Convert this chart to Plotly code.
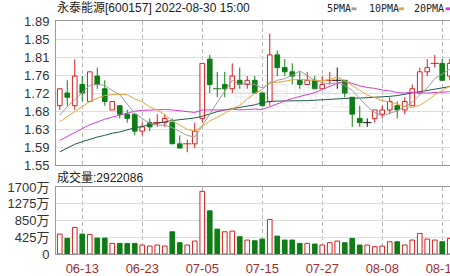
import plotly.graph_objects as go

# ---- daily K-line data, 永泰能源 (600157) ----
dates = [
    "06-08", "06-09", "06-10", "06-13", "06-14", "06-15", "06-16", "06-17", "06-20", "06-21",
    "06-22", "06-23", "06-24", "06-27", "06-28", "06-29", "06-30", "07-01", "07-04", "07-05",
    "07-06", "07-07", "07-08", "07-11", "07-12", "07-13", "07-14", "07-15", "07-18", "07-19",
    "07-20", "07-21", "07-22", "07-25", "07-26", "07-27", "07-28", "07-29", "08-01", "08-02",
    "08-03", "08-04", "08-05", "08-08", "08-09", "08-10", "08-11", "08-12", "08-15", "08-16",
    "08-17", "08-18", "08-19",
]
opens = [
    1.69, 1.72, 1.69, 1.74, 1.70, 1.76, 1.73, 1.68, 1.69, 1.67,
    1.67, 1.63, 1.65, 1.65, 1.65, 1.65, 1.60, 1.60, 1.60, 1.66,
    1.80, 1.73, 1.74, 1.73, 1.75, 1.74, 1.75, 1.72, 1.70, 1.81,
    1.78, 1.77, 1.75, 1.74, 1.75, 1.73, 1.75, 1.75, 1.75, 1.71,
    1.66, 1.65, 1.66, 1.67, 1.68, 1.69, 1.68, 1.69, 1.72, 1.77,
    1.79, 1.79, 1.76,
]
highs = [
    1.73, 1.75, 1.80, 1.76, 1.77, 1.78, 1.75, 1.70, 1.69, 1.68,
    1.67, 1.65, 1.66, 1.67, 1.67, 1.66, 1.62, 1.61, 1.65, 1.79,
    1.81, 1.77, 1.77, 1.79, 1.78, 1.76, 1.76, 1.72, 1.86, 1.82,
    1.80, 1.79, 1.77, 1.77, 1.76, 1.76, 1.77, 1.78, 1.75, 1.71,
    1.69, 1.66, 1.68, 1.69, 1.71, 1.70, 1.71, 1.74, 1.78, 1.80,
    1.81, 1.80, 1.80,
]
lows = [
    1.68, 1.69, 1.68, 1.70, 1.70, 1.73, 1.69, 1.68, 1.66, 1.65,
    1.62, 1.62, 1.63, 1.64, 1.64, 1.60, 1.59, 1.58, 1.59, 1.65,
    1.72, 1.71, 1.71, 1.72, 1.73, 1.73, 1.72, 1.69, 1.69, 1.76,
    1.76, 1.74, 1.73, 1.74, 1.73, 1.73, 1.74, 1.73, 1.71, 1.64,
    1.64, 1.64, 1.65, 1.66, 1.67, 1.66, 1.67, 1.69, 1.72, 1.76,
    1.78, 1.75, 1.75,
]
closes = [
    1.73, 1.71, 1.76, 1.72, 1.77, 1.74, 1.70, 1.70, 1.67, 1.66,
    1.63, 1.64, 1.64, 1.65, 1.66, 1.60, 1.59, 1.60, 1.63, 1.79,
    1.74, 1.73, 1.73, 1.76, 1.74, 1.75, 1.72, 1.69, 1.81, 1.78,
    1.77, 1.76, 1.74, 1.75, 1.73, 1.74, 1.75, 1.75, 1.72, 1.67,
    1.65, 1.65, 1.68, 1.68, 1.70, 1.68, 1.70, 1.73, 1.77, 1.78,
    1.79, 1.75, 1.79,
]
# volume in 万 shares
volumes = [
    505, 396, 674, 505, 497, 404, 404, 269, 269, 269,
    269, 227, 202, 227, 202, 564, 286, 227, 328, 1591,
    1095, 632, 564, 581, 438, 354, 337, 379, 876, 455,
    354, 354, 269, 269, 253, 227, 286, 328, 286, 396,
    227, 227, 185, 202, 311, 311, 227, 354, 522, 379,
    354, 311, 396,
]
ma5 = [
    1.668, 1.688, 1.704, 1.721, 1.738, 1.740, 1.738, 1.726, 1.716, 1.694,
    1.672, 1.660, 1.648, 1.644, 1.644, 1.638, 1.628, 1.620, 1.616, 1.642,
    1.670, 1.698, 1.724, 1.750, 1.740, 1.742, 1.740, 1.732, 1.742, 1.750,
    1.754, 1.762, 1.772, 1.760, 1.750, 1.744, 1.742, 1.744, 1.738, 1.726,
    1.708, 1.688, 1.674, 1.666, 1.672, 1.678, 1.688, 1.698, 1.716, 1.732,
    1.754, 1.764, 1.776,
]
ma10 = [
    1.652, 1.664, 1.675, 1.688, 1.700, 1.708, 1.714, 1.716, 1.717, 1.716,
    1.706, 1.699, 1.687, 1.680, 1.669, 1.655, 1.644, 1.634, 1.630, 1.643,
    1.654, 1.663, 1.672, 1.683, 1.691, 1.706, 1.719, 1.728, 1.746, 1.745,
    1.748, 1.751, 1.752, 1.751, 1.750, 1.749, 1.752, 1.758, 1.749, 1.738,
    1.726, 1.715, 1.709, 1.702, 1.699, 1.693, 1.688, 1.686, 1.691, 1.702,
    1.716, 1.726, 1.737,
]
ma20 = [
    1.608, 1.618, 1.628, 1.636, 1.645, 1.652, 1.658, 1.663, 1.668, 1.673,
    1.677, 1.679, 1.680, 1.681, 1.681, 1.680, 1.678, 1.675, 1.674, 1.680,
    1.680, 1.681, 1.680, 1.682, 1.680, 1.681, 1.682, 1.681, 1.688, 1.694,
    1.701, 1.707, 1.712, 1.717, 1.721, 1.728, 1.736, 1.743, 1.748, 1.742,
    1.737, 1.733, 1.731, 1.727, 1.725, 1.721, 1.720, 1.722, 1.720, 1.720,
    1.721, 1.721, 1.723,
]
ma30 = [
    1.581, 1.590, 1.599, 1.605, 1.611, 1.616, 1.620, 1.625, 1.628, 1.633,
    1.638, 1.641, 1.645, 1.648, 1.652, 1.655, 1.657, 1.659, 1.661, 1.665,
    1.671, 1.676, 1.680, 1.683, 1.686, 1.689, 1.692, 1.697, 1.700, 1.701,
    1.701, 1.702, 1.702, 1.702, 1.703, 1.704, 1.705, 1.707, 1.707, 1.708,
    1.708, 1.709, 1.709, 1.710, 1.712, 1.714, 1.717, 1.721, 1.724, 1.727,
    1.730, 1.732, 1.735,
]

price_range = [1.55, 1.89]
price_ticks = [1.55, 1.5925, 1.635, 1.6775, 1.72, 1.7625, 1.805, 1.8475, 1.89]
price_tick_labels = ["1.55", "1.59", "1.63", "1.68", "1.72", "1.76", "1.81", "1.85", "1.89"]
vol_range = [0, 1700]
vol_ticks = [0, 425, 850, 1275, 1700]
vol_tick_labels = ["0", "425万", "850万", "1275万", "1700万"]
date_ticks = ["06-13", "06-23", "07-05", "07-15", "07-27", "08-08", "08-18"]

title_text = "永泰能源[600157] 2022-08-30 15:00"
volume_text = "成交量:2922086"
ma_names = ["5PMA", "10PMA", "20PMA"]

# ---- styling ----
RED = "#d2211e"
GREEN = "#0f7d16"
BLACK = "#111111"
MA_COLORS = ["#9c9c9c", "#e8a637", "#d23fd2", "#1d5c4a"]
GRID = "#dedede"
VGRID = "#b5b5b5"
AXIS = "#9a9a9a"
DATE_COLOR = "#9e2e2e"
SANS = "Liberation Sans, Arial, Noto Sans CJK SC, sans-serif"

W, H = 450, 276
ML, MT, MB = 56, 21, 22
BAR_STEP = 7.5  # pixels per trading day


def px(x):
    return (x - ML) / (W - ML)


def py(y):
    return (H - MB - y) / (H - MT - MB)


def candle_color(i):
    if closes[i] > opens[i]:
        return RED
    if closes[i] < opens[i]:
        return GREEN
    prev = closes[i - 1] if i > 0 else opens[i]
    if closes[i] > prev:
        return RED
    if closes[i] < prev:
        return GREEN
    return BLACK


def volume_color(i):
    if i == 0:
        return RED if closes[0] >= opens[0] else GREEN
    return RED if closes[i] >= closes[i - 1] else GREEN


fig = go.Figure()

# wicks, grouped by colour
wicks = {}
for i, d in enumerate(dates):
    col = candle_color(i)
    xs, ys = wicks.setdefault(col, ([], []))
    top = max(opens[i], closes[i])
    bot = min(opens[i], closes[i])
    if opens[i] == closes[i]:
        xs += [d, d, None]
        ys += [lows[i], highs[i], None]
    else:
        if highs[i] > top:
            xs += [d, d, None]
            ys += [top, highs[i], None]
        if lows[i] < bot:
            xs += [d, d, None]
            ys += [lows[i], bot, None]
for col, (xs, ys) in wicks.items():
    fig.add_trace(go.Scatter(x=xs, y=ys, mode="lines", line=dict(color=col, width=1),
                             hoverinfo="skip", xaxis="x", yaxis="y"))

# candle bodies
bx, bbase, bh, bfill, bline = [], [], [], [], []
dx, dy, dcol = [], [], []
for i, d in enumerate(dates):
    col = candle_color(i)
    if opens[i] == closes[i]:
        dx.append(d)
        dy.append(closes[i])
        dcol.append(col)
        continue
    bx.append(d)
    bbase.append(min(opens[i], closes[i]))
    bh.append(abs(closes[i] - opens[i]))
    bfill.append("#ffffff" if closes[i] > opens[i] else GREEN)
    bline.append(col)
fig.add_trace(go.Bar(x=bx, y=bh, base=bbase, width=0.62,
                     marker=dict(color=bfill, line=dict(color=bline, width=1)),
                     hoverinfo="skip", xaxis="x", yaxis="y"))
fig.add_trace(go.Scatter(x=dx, y=dy, mode="markers",
                         marker=dict(symbol="line-ew", size=6,
                                     line=dict(color=dcol, width=1)),
                         hoverinfo="skip", xaxis="x", yaxis="y"))

# moving averages
for series, col in zip([ma30, ma20, ma10, ma5], MA_COLORS[::-1]):
    fig.add_trace(go.Scatter(x=dates, y=series, mode="lines",
                             line=dict(color=col, width=1),
                             hoverinfo="skip", xaxis="x", yaxis="y"))

# volume bars
vfill, vline = [], []
for i in range(len(dates)):
    col = volume_color(i)
    vline.append(col)
    vfill.append("#ffffff" if col == RED else GREEN)
fig.add_trace(go.Bar(x=dates, y=volumes, width=0.62,
                     marker=dict(color=vfill, line=dict(color=vline, width=1)),
                     hoverinfo="skip", xaxis="x2", yaxis="y2"))

x_range = [-0.5, -0.5 + (W - ML) / BAR_STEP]

common_x = dict(
    type="category", categoryorder="array", categoryarray=dates,
    tickmode="array", tickvals=date_ticks, ticks="",
    showgrid=True, gridcolor=VGRID, gridwidth=1, griddash="4px,3px",
    showline=True, linecolor=AXIS, linewidth=1, mirror=True,
    zeroline=False, automargin=False, fixedrange=True,
)
common_y = dict(
    ticks="", showgrid=True, gridcolor=GRID, gridwidth=1,
    showline=True, linecolor=AXIS, linewidth=1, zeroline=False,
    automargin=False, fixedrange=True, ticklabelstandoff=3,
    tickfont=dict(family=SANS, size=13, color="#333333"),
)

fig.update_layout(
    template="none",
    width=W, height=H,
    margin=dict(l=ML, r=0, t=MT, b=MB, pad=0),
    paper_bgcolor="white", plot_bgcolor="white",
    showlegend=False, barmode="overlay",
    font=dict(family=SANS, size=12, color="#222222"),
    xaxis=dict(common_x, anchor="y", range=x_range, showticklabels=False),
    xaxis2=dict(common_x, anchor="y2", matches="x", showticklabels=True,
                ticklabelstandoff=2,
                tickfont=dict(family=SANS, size=13, color=DATE_COLOR)),
    yaxis=dict(common_y, domain=[py(165), 1], range=price_range,
               tickvals=price_ticks, ticktext=price_tick_labels),
    yaxis2=dict(common_y, domain=[0, py(187)], range=vol_range,
                tickvals=vol_ticks, ticktext=vol_tick_labels),
)

annotations = [
    dict(text=title_text, x=px(55), y=py(8.5), xanchor="left", yanchor="middle",
         font=dict(family=SANS, size=12, color="#222222")),
    dict(text=volume_text, x=px(55), y=py(177.5), xanchor="left", yanchor="middle",
         font=dict(family=SANS, size=12, color="#222222")),
    dict(text="新浪财经", x=px(292), y=py(93), xanchor="center", yanchor="middle",
         font=dict(family="Noto Sans CJK SC", size=30, color="rgba(150,150,150,0.13)")),
]
legend_x = [325, 366.5, 412]
dash_x = [351.5, 399, 445.5]
for name, lx, dxp, col in zip(ma_names, legend_x, dash_x, MA_COLORS):
    annotations.append(dict(text=name, x=px(lx), y=py(8.7), xanchor="left",
                            yanchor="middle",
                            font=dict(family="DejaVu Sans Mono", size=10, color="#222222")))
    fig.add_shape(type="rect", xref="paper", yref="paper",
                  x0=px(dxp), x1=px(dxp + 5), y0=py(10.2), y1=py(7.4),
                  fillcolor=col, line=dict(width=0))
for a in annotations:
    a.update(xref="paper", yref="paper", showarrow=False)
fig.update_layout(annotations=annotations)

fig.write_html("out.html")
